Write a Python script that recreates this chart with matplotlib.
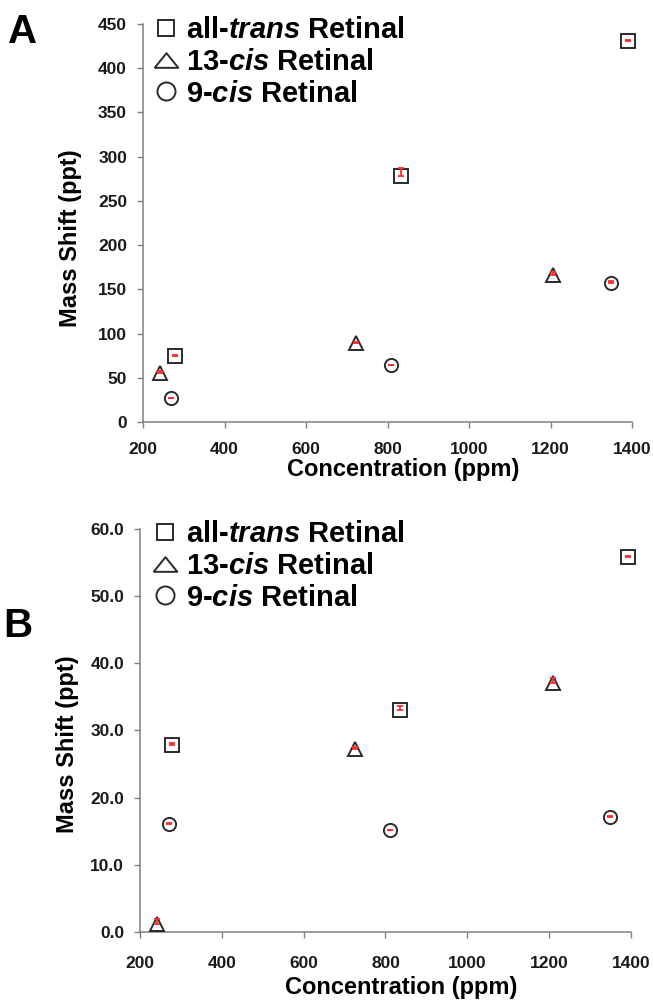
import numpy as np
import matplotlib
matplotlib.use('Agg')
import matplotlib.pyplot as plt
from matplotlib.lines import Line2D

plt.rcParams['font.family'] = 'Liberation Sans'
plt.rcParams['font.weight'] = 'bold'
plt.rcParams['mathtext.fontset'] = 'custom'
plt.rcParams['mathtext.it'] = 'Liberation Sans:italic:bold'
plt.rcParams['mathtext.rm'] = 'Liberation Sans:bold'

series_labels = ['all-$\\mathit{trans}$ Retinal', '13-$\\mathit{cis}$ Retinal', '9-$\\mathit{cis}$ Retinal']

# panel A (upper error only)
a_trans_x = [278, 833, 1391]
a_trans_y = [75, 278, 431]
a_trans_err = [1, 9, 1]
a_13cis_x = [242, 723, 1207]
a_13cis_y = [56, 89, 166]
a_13cis_err = [2, 2, 4]
a_9cis_x = [268, 808, 1348]
a_9cis_y = [27, 64, 157]
a_9cis_err = [0.5, 1, 2]

# panel B
b_trans_x = [279, 836, 1392]
b_trans_y = [27.9, 33.1, 55.8]
b_trans_err = [0.2, 0.5, 0.1]
b_13cis_x = [242, 725, 1209]
b_13cis_y = [1.2, 27.3, 37.1]
b_13cis_err = [0.7, 0.25, 0.65]
b_9cis_x = [271, 810, 1348]
b_9cis_y = [16.1, 15.2, 17.1]
b_9cis_err = [0.15, 0.05, 0.15]

a_yticks = [0, 50, 100, 150, 200, 250, 300, 350, 400, 450]
b_yticks = [0, 10, 20, 30, 40, 50, 60]
xticks = [200, 400, 600, 800, 1000, 1200, 1400]

edge = '#2a2a2a'
axis_gray = '#808080'
red = '#ff2a2a'

fig = plt.figure(figsize=(6.53, 10.02), dpi=100)
axA = fig.add_axes([0.219, 0.5788, 0.7489, 0.3972])
axB = fig.add_axes([0.2144, 0.0699, 0.7519, 0.4022])

tri_legend = [(-1, -0.62), (1, -0.62), (0, 0.62), (-1, -0.62)]


def draw_series(ax, x, y, err, marker, ms):
    ax.plot(x, y, ls='none', marker=marker, ms=ms, mfc='white', mec=edge, mew=1.4,
            zorder=3, clip_on=False)
    eb = ax.errorbar(x, y, yerr=[np.zeros(len(err)), err], fmt='none', ecolor=red,
                     elinewidth=1.3, capsize=2, capthick=1.3, zorder=4)
    for art in eb.lines[1] + eb.lines[2]:
        art.set_clip_on(False)


def style_axes(ax, yticks, yfmt, ymax, xpad):
    ax.set_xlim(200, 1400)
    ax.set_ylim(0, ymax)
    ax.set_xticks(xticks)
    ax.set_yticks(yticks)
    ax.set_yticklabels([yfmt.format(v) for v in yticks])
    for s in ['top', 'right']:
        ax.spines[s].set_visible(False)
    for s in ['left', 'bottom']:
        ax.spines[s].set_color(axis_gray)
        ax.spines[s].set_linewidth(1.1)
    ax.tick_params(axis='both', direction='out', length=4.5, width=1, color=axis_gray,
                   labelsize=12.5, labelcolor='#1a1a1a')
    ax.tick_params(axis='x', pad=xpad)
    ax.tick_params(axis='y', pad=7)
    ax.set_xlabel('Concentration (ppm)', fontsize=17, fontweight='bold', va='center')
    ax.set_ylabel('Mass Shift (ppt)', fontsize=17, fontweight='bold', va='center')
    handles = [
        Line2D([], [], ls='none', marker='s', ms=11.5, mfc='none', mec=edge, mew=1.4),
        Line2D([], [], ls='none', marker=tri_legend, ms=17, mfc='none', mec=edge, mew=1.4),
        Line2D([], [], ls='none', marker='o', ms=13, mfc='none', mec=edge, mew=1.4),
    ]
    return handles


legend_kw = dict(loc='upper left', frameon=False, fontsize=21, handlelength=0.9,
                 handletextpad=0.25, labelspacing=0.13, borderpad=0, borderaxespad=0)

hA = style_axes(axA, a_yticks, '{:d}', 450, 10)
draw_series(axA, a_trans_x, a_trans_y, a_trans_err, 's', 9.5)
draw_series(axA, a_13cis_x, a_13cis_y, a_13cis_err, '^', 10)
draw_series(axA, a_9cis_x, a_9cis_y, a_9cis_err, 'o', 9.5)
axA.xaxis.set_label_coords(0.532, -0.12)
axA.yaxis.set_label_coords(-0.149, 0.462)
axA.legend(hA, series_labels, bbox_to_anchor=(0.02, 1.02), **legend_kw)

hB = style_axes(axB, b_yticks, '{:.1f}', 60, 12.5)
draw_series(axB, b_trans_x, b_trans_y, b_trans_err, 's', 9.5)
draw_series(axB, b_13cis_x, b_13cis_y, b_13cis_err, '^', 10)
draw_series(axB, b_9cis_x, b_9cis_y, b_9cis_err, 'o', 9.5)
axB.xaxis.set_label_coords(0.532, -0.139)
axB.yaxis.set_label_coords(-0.147, 0.467)
axB.legend(hB, series_labels, bbox_to_anchor=(0.025, 1.022), **legend_kw)

fig.text(8 / 653, 1 - 43 / 1002, 'A', fontsize=29, fontweight='bold', ha='left', va='baseline')
fig.text(3 / 653, 1 - 637 / 1002, 'B', fontsize=29, fontweight='bold', ha='left', va='baseline')

fig.savefig('out.png', dpi=100)
